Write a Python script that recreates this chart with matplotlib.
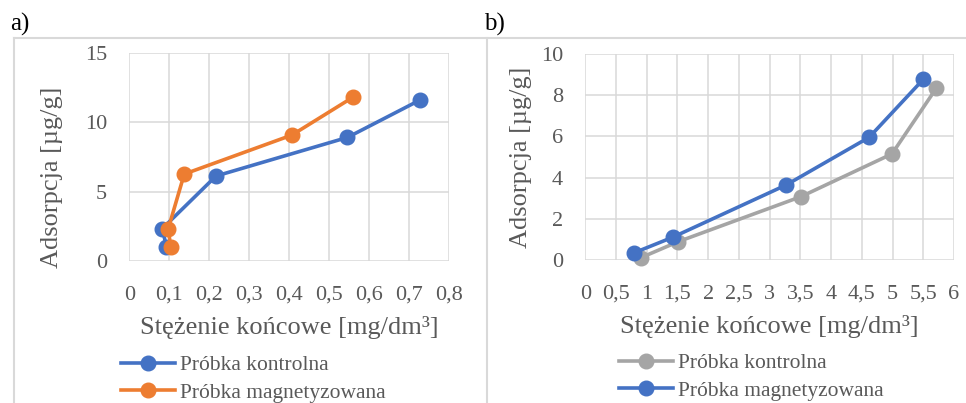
import matplotlib
matplotlib.use('Agg')
import matplotlib.pyplot as plt
from matplotlib.lines import Line2D

plt.rcParams['font.family'] = ['Liberation Serif', 'DejaVu Serif']

# a) data
a_ctrl_x = [0.093, 0.0825, 0.217, 0.546, 0.728]
a_ctrl_y = [1.03, 2.33, 6.12, 8.9, 11.6]
a_mag_x = [0.1035, 0.0975, 0.1375, 0.407, 0.56]
a_mag_y = [1.03, 2.33, 6.26, 9.07, 11.8]
a_xticks = [0, 0.1, 0.2, 0.3, 0.4, 0.5, 0.6, 0.7, 0.8]
a_yticks = [0, 5, 10, 15]

# b) data
b_ctrl_x = [0.906, 1.514, 3.51, 4.99, 5.71]
b_ctrl_y = [0.1, 0.88, 3.07, 5.15, 8.34]
b_mag_x = [0.798, 1.42, 3.27, 4.62, 5.50]
b_mag_y = [0.34, 1.09, 3.64, 5.96, 8.78]
b_xticks = [0, 0.5, 1, 1.5, 2, 2.5, 3, 3.5, 4, 4.5, 5, 5.5, 6]
b_yticks = [0, 2, 4, 6, 8, 10]

labels = ['Próbka kontrolna', 'Próbka magnetyzowana']
xlabel = 'Stężenie końcowe [mg/dm³]'
ylabel = 'Adsorpcja [µg/g]'

BLUE = '#4472C4'
ORANGE = '#ED7D31'
GRAY = '#A5A5A5'
TXT = '#595959'
GRID = '#D9D9D9'

W, H = 966, 403
fig = plt.figure(figsize=(W / 100, H / 100), dpi=100)


def px_axes(l, t, r, b):
    return fig.add_axes([l / W, 1 - b / H, (r - l) / W, (b - t) / H])


def fmt(v):
    return ('%g' % v).replace('.', ',')


def style(ax, xt, yt):
    ax.set_xlim(xt[0], xt[-1])
    ax.set_ylim(yt[0], yt[-1])
    ax.set_xticks(xt)
    ax.set_yticks(yt)
    ax.set_xticklabels([fmt(v) for v in xt])
    ax.set_yticklabels([fmt(v) for v in yt])
    ax.grid(True, color=GRID, lw=1.1)
    ax.set_axisbelow(True)
    for s in ax.spines.values():
        s.set_visible(False)
    ax.tick_params(length=0, labelsize=16, colors=TXT)
    ax.tick_params(axis='x', pad=18)
    ax.tick_params(axis='y', pad=16)
    ax.set_xlabel(xlabel, fontsize=19, color=TXT, labelpad=8)
    ax.set_ylabel(ylabel, fontsize=19, color=TXT)


kw = dict(lw=2.6, marker='o', ms=10.5, clip_on=False)
leg_kw = dict(loc='upper left', bbox_transform=fig.transFigure, frameon=False,
              fontsize=15.5, labelcolor=TXT, handlelength=2.5, handletextpad=0.25,
              labelspacing=0.35, borderpad=0, borderaxespad=0)

ax1 = px_axes(129.3, 52.7, 449, 261)
l1, = ax1.plot(a_ctrl_x, a_ctrl_y, color=BLUE, **kw)
l2, = ax1.plot(a_mag_x, a_mag_y, color=ORANGE, **kw)
style(ax1, a_xticks, a_yticks)
ax1.yaxis.set_label_coords(-(129.3 - 63) / (449 - 129.3), 0.4)
ax1.legend([l1, l2], labels, bbox_to_anchor=(120.7 / W, 1 - 355 / H), **leg_kw)

ax2 = px_axes(585.3, 54.3, 954, 259.7)
l3, = ax2.plot(b_ctrl_x, b_ctrl_y, color=GRAY, **kw)
l4, = ax2.plot(b_mag_x, b_mag_y, color=BLUE, **kw)
style(ax2, b_xticks, b_yticks)
ax2.yaxis.set_label_coords(-(585.3 - 532) / (954 - 585.3), 0.5)
ax2.legend([l3, l4], labels, bbox_to_anchor=(619 / W, 1 - 353 / H), **leg_kw)

# panel frames and labels
fig.add_artist(Line2D([13.5 / W, 1], [1 - 38 / H] * 2, color=GRID, lw=1.5))
fig.add_artist(Line2D([13.5 / W] * 2, [0, 1 - 38 / H], color=GRID, lw=1.5))
fig.add_artist(Line2D([486.7 / W] * 2, [0, 1 - 38 / H], color=GRID, lw=1.5))
fig.text(10 / W, 1 - 31 / H, 'a)', fontsize=18, color='black')
fig.text(484 / W, 1 - 31 / H, 'b)', fontsize=18, color='black')

fig.savefig('out.png', dpi=100)
